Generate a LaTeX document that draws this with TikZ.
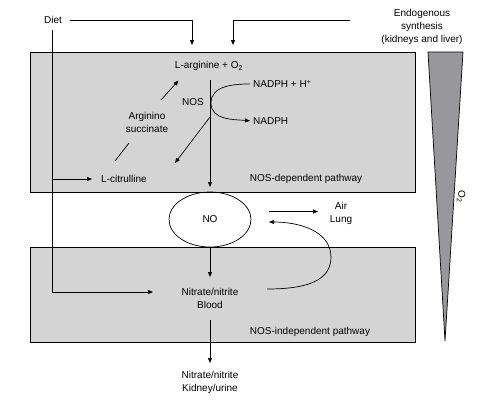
\documentclass[tikz,border=0pt]{standalone}
\usepackage{fontspec}
\setmainfont{Liberation Sans}
\usetikzlibrary{arrows.meta,shapes.geometric}
\definecolor{boxgray}{RGB}{212,212,212}
\definecolor{wedgegray}{RGB}{152,152,156}
\begin{document}
\begin{tikzpicture}[x=1pt,y=-1pt,
  font=\fontsize{10}{13}\selectfont,
  arr/.style={-{Triangle[length=5pt,width=4pt]}, line width=0.7pt},
  ln/.style={line width=0.7pt},
  txt/.style={inner sep=1pt, align=center},
  panel/.style={draw, fill=boxgray, line width=0.8pt, inner sep=0pt, anchor=north west}]
\useasboundingbox (0,0) rectangle (487,402);
\fill[white] (0,0) rectangle (487,402);
% panels
\node[panel, minimum width=385pt, minimum height=140pt] (upper) at (30,52) {};
\node[panel, minimum width=385pt, minimum height=95pt] (lower) at (30,247) {};
% wedge
\filldraw[fill=wedgegray, line width=0.7pt] (428,52) -- (463,52) -- (445,341) -- cycle;
\node[txt, rotate=-90] (o2) at (461,197) {O\textsubscript{2}};
% texts
\node[txt] (diet) at (53,20) {Diet};
\node[txt] (endo) at (422,27) {Endogenous\\synthesis\\(kidneys and liver)};
\node[txt] (larg) at (209,66) {L-arginine + O\textsubscript{2}};
\node[txt] (nos) at (193,102) {NOS};
\node[txt, anchor=west] (nadphh) at (252,84) {NADPH + H\textsuperscript{+}};
\node[txt, anchor=west] (nadph) at (252,121) {NADPH};
\node[txt] (argino) at (147,122) {Arginino\\succinate};
\node[txt] (cit) at (124,179) {L-citrulline};
\node[txt] (dep) at (306,179) {NOS-dependent pathway};
\node[draw, ellipse, line width=0.7pt, minimum width=82pt, minimum height=55pt, inner sep=0pt] (no) at (210,219.5) {NO};
\node[txt] (air) at (341,213.5) {Air\\Lung};
\node[txt] (blood) at (210,298.5) {Nitrate/nitrite\\Blood};
\node[txt] (indep) at (310,332) {NOS-independent pathway};
\node[txt] (kid) at (210,382) {Nitrate/nitrite\\Kidney/urine};
% coordinates
\coordinate (dietstart) at (70,20);
\coordinate (dietin) at (192,45);
\coordinate (endostart) at (350,20);
\coordinate (endoin) at (233,45);
\coordinate (dietend) at (52,292);
\coordinate (bloodin) at (153,292);
\coordinate (citin) at (92,179);
\coordinate (citbranch) at (52,179);
\coordinate (nosleft) at (211,103);
\coordinate (cutstart) at (210,117);
\coordinate (cutend) at (175,163);
\coordinate (asA) at (161,100);
\coordinate (asB) at (178.5,80.5);
\coordinate (csA) at (115,161);
\coordinate (csB) at (129,143);
\coordinate (loopstart) at (267,289);
\coordinate (loopright) at (331,257.5);
\coordinate (loopend) at (269,222);
\coordinate (airstart) at (269,211.5);
\coordinate (airend) at (318,211.5);
% connectors
\draw[arr] (dietstart) -- (dietstart -| dietin) -- (dietin);
\draw[arr] (endostart) -- (endostart -| endoin) -- (endoin);
\draw[ln] (diet.south) ++(-1,0) coordinate (dtop) (dtop |- 0,30) -- (dietend);
\draw[arr] (citbranch) -- (citin);
\draw[arr] (dietend) -- (bloodin);
\draw[arr] (larg.south) ++(1,0) coordinate (lb) (lb |- 0,80) -- (lb |- 0,187);
\draw[arr, shorten <=2pt, shorten >=2pt] (nadphh.west) to[out=180,in=90] (nosleft) to[out=-90,in=175] (nadph.west);
\draw[arr] (cutstart) -- (cutend);
\draw[arr] (asA) -- (asB);
\draw[ln] (csA) -- (csB);
\draw[arr] (no.south) -- (210,277);
\draw[arr] (210,319.5) -- (210,363);
\draw[arr] (airstart) -- (airend);
\draw[arr] (loopstart) to[out=0,in=-90] (loopright) to[out=90,in=0] (loopend);
\end{tikzpicture}
\end{document}
